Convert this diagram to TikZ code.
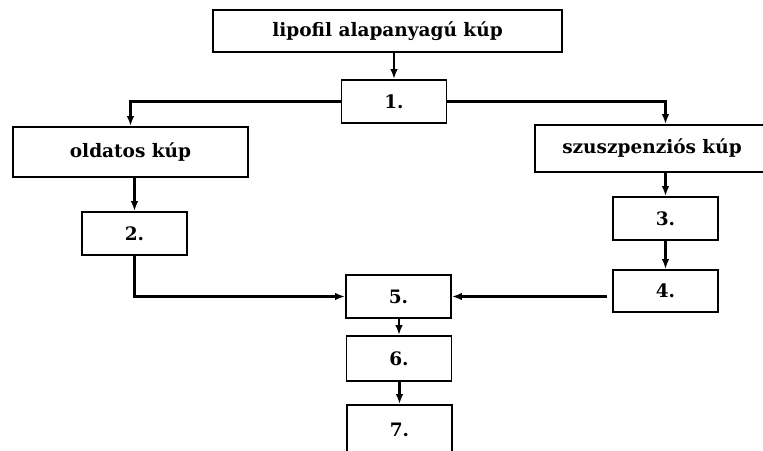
\documentclass[tikz,border=0pt]{standalone}
\usepackage{fontspec}
\setmainfont{DejaVu Serif}
\usetikzlibrary{arrows.meta,positioning,calc}

\begin{document}
\begin{tikzpicture}[x=1pt, y=-1pt, >={Latex[length=10pt,width=7.5pt]},
    doboz/.style={draw=black, line width=1.8pt, fill=white, inner sep=0pt,
        font=\fontsize{18.5}{20}\selectfont\bfseries},
    kisdoboz/.style={doboz, minimum width=105pt, minimum height=43pt},
    nyil/.style={draw=black, line width=2.2pt, ->}]
    \useasboundingbox (0,0) rectangle (763,450);

    % Kiindulo kup
    \node[doboz, minimum width=349pt, minimum height=42pt] (lipofil) at (387.5,31) {lipofil alapanyagú kúp};
    \node[kisdoboz] (e1) at (394,101.5) {1.};

    % Ket ag: oldatos es szuszpenzios
    \node[doboz, minimum width=235pt, minimum height=50pt] (oldatos) at (130.5,152) {oldatos kúp};
    \node[doboz, minimum width=234pt, minimum height=47pt] (szusz) at (652,148.5) {szuszpenziós kúp};

    % Lepesek
    \node[kisdoboz] (e2) at (134.5,233.5) {2.};
    \node[kisdoboz] (e3) at (665.5,218.5) {3.};
    \node[kisdoboz, minimum height=42pt] (e4) at (665.5,291) {4.};
    \node[kisdoboz] (e5) at (398.5,296.5) {5.};
    \node[kisdoboz, minimum height=45pt] (e6) at (399,358.5) {6.};
    \node[kisdoboz, minimum height=50pt] (e7) at (399.5,430) {7.};

    % Nyilak
    \draw[nyil] (e1.north |- lipofil.south) -- (e1.north);
    \draw[nyil] (e1.west) -| (oldatos.north);
    \draw[nyil] (e1.east) -| (szusz.north -| e3.north);
    \draw[nyil] (e2.north |- oldatos.south) -- (e2.north);
    \draw[nyil] (e3.north |- szusz.south) -- (e3.north);
    \draw[nyil] (e3) -- (e4);
    \draw[nyil] (e2.south) |- (e5.west);
    \draw[nyil, shorten <=5pt] (e4.west |- e5.east) -- (e5.east);
    \draw[nyil] (e5.south -| e6.north) -- (e6.north);
    \draw[nyil] (e6.south -| e7.north) -- (e7.north);
\end{tikzpicture}
\end{document}
